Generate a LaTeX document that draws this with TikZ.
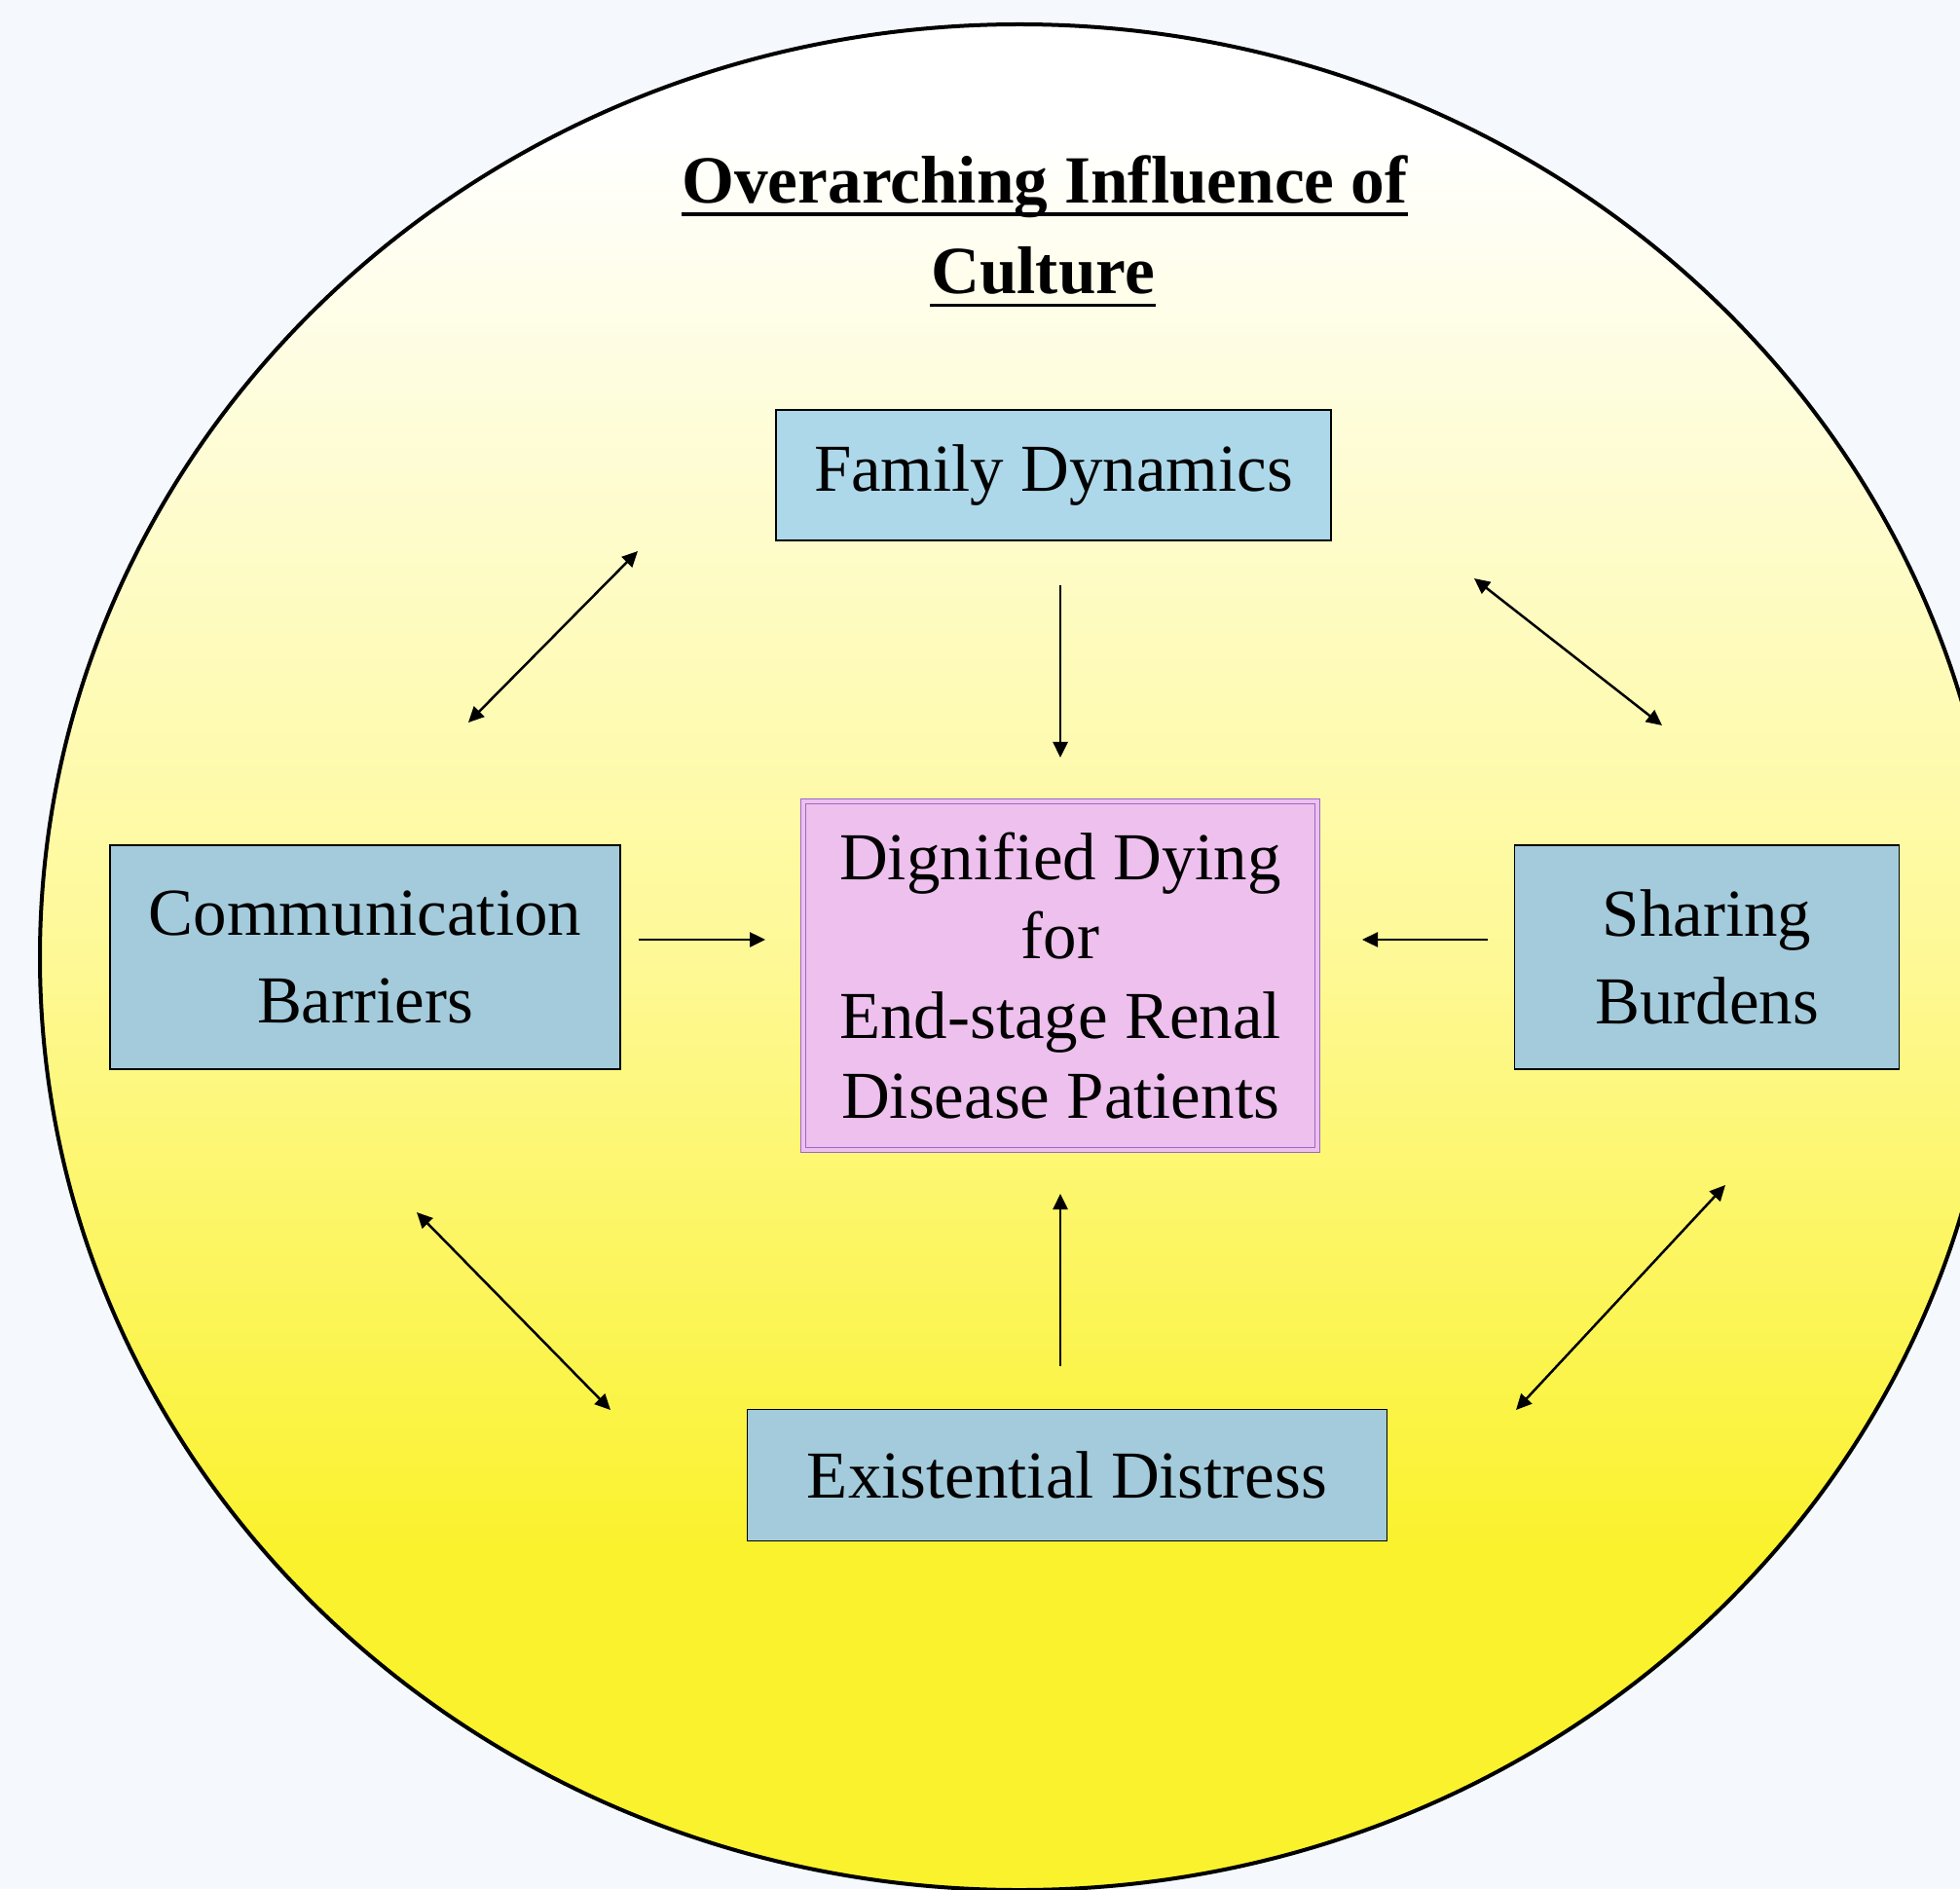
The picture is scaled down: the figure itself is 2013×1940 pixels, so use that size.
\documentclass[tikz,border=0pt]{standalone}
\usepackage{fontspec}
\setmainfont{Liberation Serif}
\usetikzlibrary{arrows.meta}

\definecolor{pagebg}{RGB}{245,249,253}
\definecolor{yelDeep}{RGB}{250,242,44}
\definecolor{yelMid}{RGB}{254,249,150}
\definecolor{yelPale}{RGB}{254,252,205}
\definecolor{famblue}{RGB}{173,216,234}
\definecolor{boxblue}{RGB}{163,203,219}
\definecolor{dignpink}{RGB}{238,192,238}
\definecolor{dignedge}{RGB}{155,105,200}

\pgfdeclareverticalshading{cultureshade}{100bp}{color(0bp)=(yelDeep); color(34bp)=(yelDeep);
  color(50bp)=(yelMid); color(62bp)=(yelPale); color(72bp)=(white); color(100bp)=(white)}

\begin{document}
\begin{tikzpicture}[x=0.01cm,y=-0.01cm,
  box/.style={draw=black,line width=0.015cm,fill=boxblue,align=center,
    font=\fontsize{19.6}{25.5}\selectfont},
  titletext/.style={anchor=base,inner sep=0pt,font=\bfseries\fontsize{19.7}{26}\selectfont},
  arr/.style={line width=0.025cm,-{Triangle[length=0.16cm,width=0.15cm]}},
  darr/.style={line width=0.025cm,{Triangle[length=0.16cm,width=0.15cm]}-{Triangle[length=0.16cm,width=0.15cm]}}]
\useasboundingbox (0,0) rectangle (2013,1940);
\fill [pagebg] (0,0) rectangle (2013,1940);
\begin{scope}
\clip (0,0) rectangle (2013,1940);
\shade [shading=cultureshade,draw=black,line width=0.04cm] (1047,983) ellipse [x radius=1006,y radius=958];
\end{scope}

% title
\node (title1) [titletext] at (1073,209) {Overarching Influence of};
\node (title2) [titletext] at (1071,302) {Culture};
\draw [line width=0.03cm] ([yshift=-0.11cm]title1.base west) -- ([yshift=-0.11cm]title1.base east);
\draw [line width=0.03cm] ([yshift=-0.11cm]title2.base west) -- ([yshift=-0.11cm]title2.base east);

% boxes
\node (fam) [box,fill=famblue,minimum width=5.70cm,minimum height=1.34cm] at (1082,488) {Family Dynamics};
\node (comm) [box,minimum width=5.24cm,minimum height=2.30cm] at (375,983) {Communication\\Barriers};
\node (share) [box,minimum width=3.95cm,minimum height=2.30cm] at (1753,983) {Sharing\\Burdens};
\node (exist) [box,minimum width=6.57cm,minimum height=1.35cm] at (1096,1515) {Existential Distress};
\node (dign) [box,fill=dignpink,draw=dignedge,double=dignpink,double distance=0.035cm,
  line width=0.012cm,minimum width=5.28cm,minimum height=3.58cm,
  font=\fontsize{19.6}{23.3}\selectfont] at (1089,1002)
  {Dignified Dying\\for\\End-stage Renal\\Disease Patients};

% arrow ends
\coordinate (famOut) at (1089,601);
\coordinate (dignTop) at (1089,778);
\coordinate (existOut) at (1089,1403);
\coordinate (dignBot) at (1089,1226);
\coordinate (commOut) at (656,965);
\coordinate (dignLeft) at (786,965);
\coordinate (shareOut) at (1528,965);
\coordinate (dignRight) at (1399,965);
\coordinate (commUp) at (481,742);
\coordinate (famLeft) at (655,566);
\coordinate (famRight) at (1514,594);
\coordinate (shareUp) at (1707,745);
\coordinate (commDown) at (428,1245);
\coordinate (existLeft) at (627,1448);
\coordinate (shareDown) at (1772,1217);
\coordinate (existRight) at (1557,1448);

\draw [arr] (famOut) -- (dignTop);
\draw [arr] (existOut) -- (dignBot);
\draw [arr] (commOut) -- (dignLeft);
\draw [arr] (shareOut) -- (dignRight);
\draw [darr] (commUp) -- (famLeft);
\draw [darr] (famRight) -- (shareUp);
\draw [darr] (commDown) -- (existLeft);
\draw [darr] (shareDown) -- (existRight);
\end{tikzpicture}
\end{document}
